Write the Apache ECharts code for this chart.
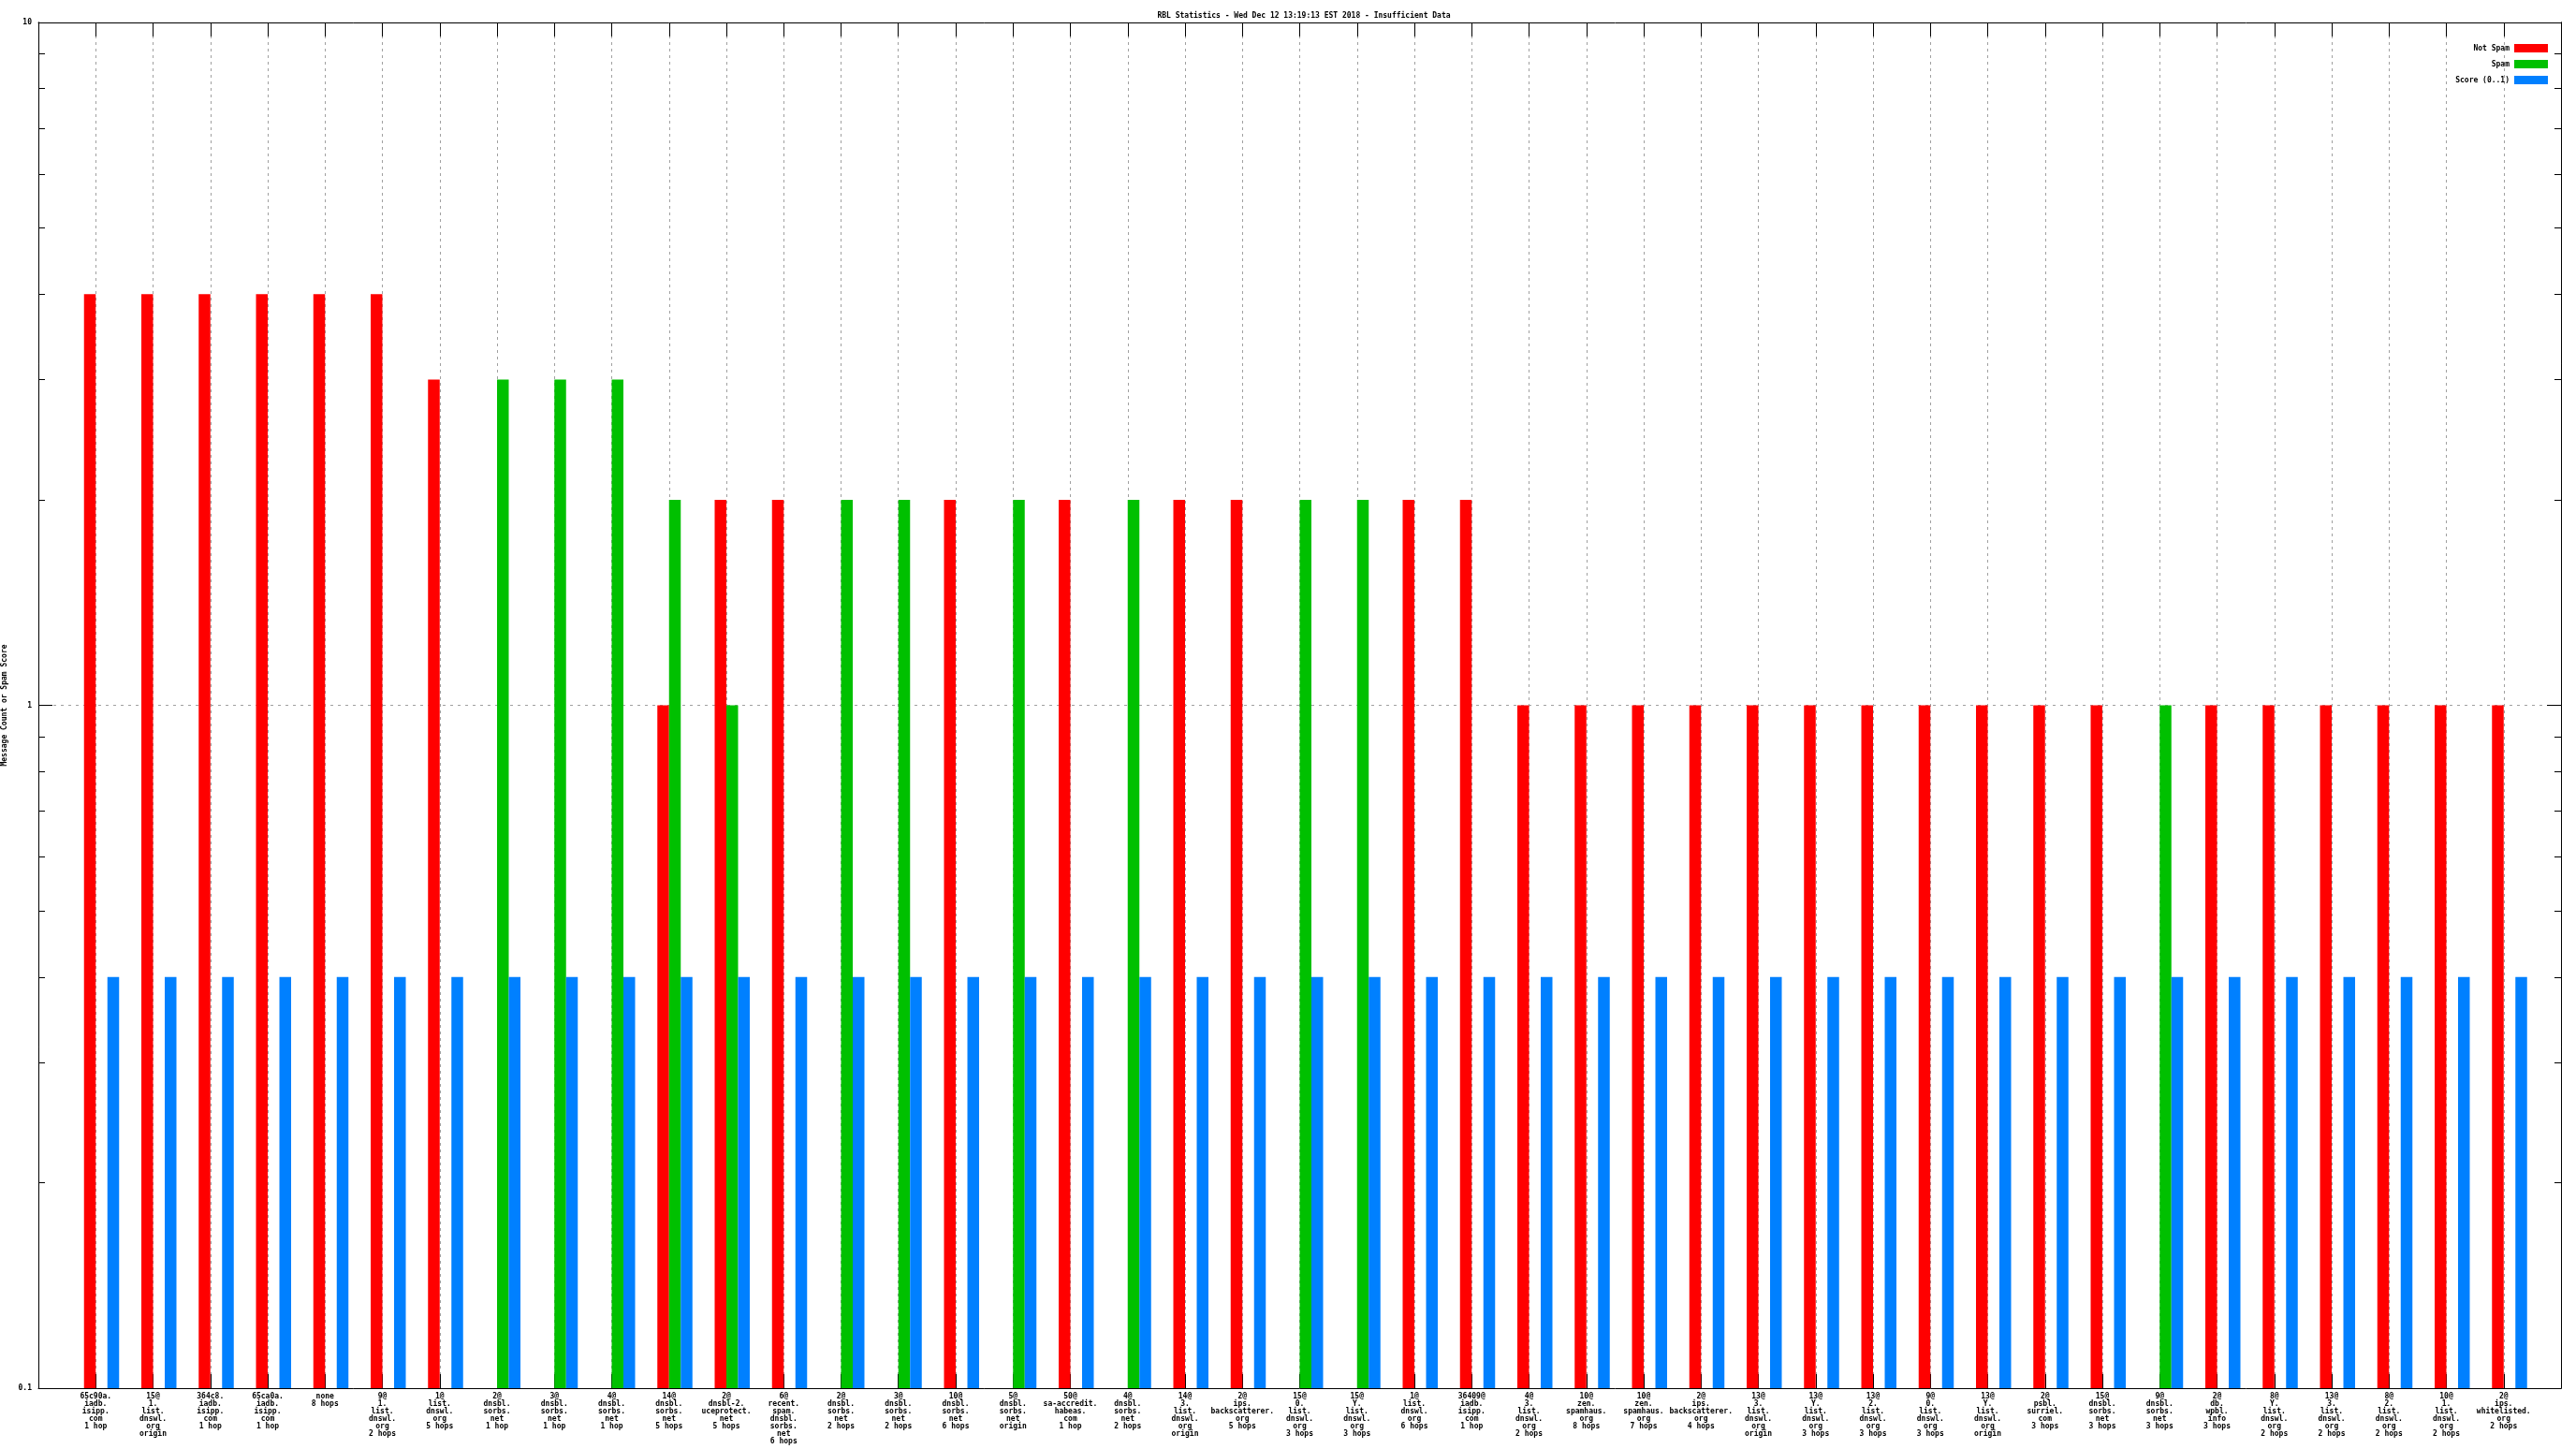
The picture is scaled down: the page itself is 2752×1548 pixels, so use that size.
<!DOCTYPE html>
<html><head><meta charset="utf-8">
<script src="https://cdn.jsdelivr.net/npm/echarts@6/dist/echarts.min.js"></script>
<style>html,body{margin:0;padding:0;background:#fff}#c{width:2752px;height:1548px}</style>
</head><body><div id="c"></div>
<script>
const titleText = 'RBL Statistics - Wed Dec 12 13:19:13 EST 2018 - Insufficient Data';
const yAxisTitle = 'Message Count or Spam Score';
const seriesNames = ['Not Spam', 'Spam', 'Score (0..1)'];
const categories = [
  '65c90a.\niadb.\nisipp.\ncom\n1 hop',
  '15@\n1.\nlist.\ndnswl.\norg\norigin',
  '364c8.\niadb.\nisipp.\ncom\n1 hop',
  '65ca0a.\niadb.\nisipp.\ncom\n1 hop',
  'none\n8 hops',
  '9@\n1.\nlist.\ndnswl.\norg\n2 hops',
  '1@\nlist.\ndnswl.\norg\n5 hops',
  '2@\ndnsbl.\nsorbs.\nnet\n1 hop',
  '3@\ndnsbl.\nsorbs.\nnet\n1 hop',
  '4@\ndnsbl.\nsorbs.\nnet\n1 hop',
  '14@\ndnsbl.\nsorbs.\nnet\n5 hops',
  '2@\ndnsbl-2.\nuceprotect.\nnet\n5 hops',
  '6@\nrecent.\nspam.\ndnsbl.\nsorbs.\nnet\n6 hops',
  '2@\ndnsbl.\nsorbs.\nnet\n2 hops',
  '3@\ndnsbl.\nsorbs.\nnet\n2 hops',
  '10@\ndnsbl.\nsorbs.\nnet\n6 hops',
  '5@\ndnsbl.\nsorbs.\nnet\norigin',
  '50@\nsa-accredit.\nhabeas.\ncom\n1 hop',
  '4@\ndnsbl.\nsorbs.\nnet\n2 hops',
  '14@\n3.\nlist.\ndnswl.\norg\norigin',
  '2@\nips.\nbackscatterer.\norg\n5 hops',
  '15@\n0.\nlist.\ndnswl.\norg\n3 hops',
  '15@\nY.\nlist.\ndnswl.\norg\n3 hops',
  '1@\nlist.\ndnswl.\norg\n6 hops',
  '36409@\niadb.\nisipp.\ncom\n1 hop',
  '4@\n3.\nlist.\ndnswl.\norg\n2 hops',
  '10@\nzen.\nspamhaus.\norg\n8 hops',
  '10@\nzen.\nspamhaus.\norg\n7 hops',
  '2@\nips.\nbackscatterer.\norg\n4 hops',
  '13@\n3.\nlist.\ndnswl.\norg\norigin',
  '13@\nY.\nlist.\ndnswl.\norg\n3 hops',
  '13@\n2.\nlist.\ndnswl.\norg\n3 hops',
  '9@\n0.\nlist.\ndnswl.\norg\n3 hops',
  '13@\nY.\nlist.\ndnswl.\norg\norigin',
  '2@\npsbl.\nsurriel.\ncom\n3 hops',
  '15@\ndnsbl.\nsorbs.\nnet\n3 hops',
  '9@\ndnsbl.\nsorbs.\nnet\n3 hops',
  '2@\ndb.\nwpbl.\ninfo\n3 hops',
  '8@\nY.\nlist.\ndnswl.\norg\n2 hops',
  '13@\n3.\nlist.\ndnswl.\norg\n2 hops',
  '8@\n2.\nlist.\ndnswl.\norg\n2 hops',
  '10@\n1.\nlist.\ndnswl.\norg\n2 hops',
  '2@\nips.\nwhitelisted.\norg\n2 hops'
];
const notSpam = [4,4,4,4,4,4,3,null,null,null,1,2,2,null,null,2,null,2,null,2,2,null,null,2,2,1,1,1,1,1,1,1,1,1,1,1,null,1,1,1,1,1,1];
const spam    = [null,null,null,null,null,null,null,3,3,3,2,1,null,2,2,null,2,null,2,null,null,2,2,null,null,null,null,null,null,null,null,null,null,null,null,null,1,null,null,null,null,null,null];
const score   = [0.4,0.4,0.4,0.4,0.4,0.4,0.4,0.4,0.4,0.4,0.4,0.4,0.4,0.4,0.4,0.4,0.4,0.4,0.4,0.4,0.4,0.4,0.4,0.4,0.4,0.4,0.4,0.4,0.4,0.4,0.4,0.4,0.4,0.4,0.4,0.4,0.4,0.4,0.4,0.4,0.4,0.4,0.4];
const yMajorTicks = [0.1, 1, 10];
const yMinorTicks = [0.2,0.3,0.4,0.5,0.6,0.7,0.8,0.9,2,3,4,5,6,7,8,9];

const FONT = "'DejaVu Sans Mono', monospace";
const WEIGHT = 'bold';
const colors = ['#ff0000', '#00c000', '#0080ff'];
const toPairs = arr => arr.map((v, i) => v == null ? null : [i, v]).filter(d => d);

const xBase = {
  type: 'value', min: -1, max: categories.length, interval: 1,
  axisLine: { show: true, onZero: false, lineStyle: { color: '#000', width: 1 } },
  axisTick: { show: true, inside: true, length: 15, lineStyle: { color: '#000', width: 1 } }
};
const yBase = {
  type: 'log', logBase: 10, min: 0.1, max: 10, startValue: 0.1,
  axisLine: { show: true, onZero: false, lineStyle: { color: '#000', width: 1 } },
  splitLine: { show: false }
};

const chart = echarts.init(document.getElementById('c'), null, { renderer: 'canvas' });
chart.setOption({
  animation: false,
  backgroundColor: '#fff',
  title: {
    text: titleText, left: 1388, top: 8, textAlign: 'center',
    textStyle: { fontSize: 8, fontWeight: WEIGHT, fontFamily: FONT, color: '#000' }
  },
  legend: {
    data: seriesNames, orient: 'vertical', align: 'right', right: 25, top: 42,
    itemWidth: 36, itemHeight: 9, itemGap: 8, icon: 'rect', selectedMode: false,
    textStyle: { fontSize: 8, fontWeight: WEIGHT, fontFamily: FONT, color: '#000' }
  },
  grid: { left: 41, right: 16, top: 24, bottom: 65, containLabel: false, outerBoundsMode: 'none' },
  xAxis: [
    Object.assign({}, xBase, {
      position: 'bottom',
      axisLabel: {
        show: true, margin: 5, fontSize: 8, lineHeight: 8, fontWeight: WEIGHT, fontFamily: FONT, color: '#000',
        formatter: v => (categories[v] !== undefined ? categories[v] : '')
      },
      splitLine: { show: true, lineStyle: { color: '#a0a0a0', width: 1, type: [3, 4] } }
    }),
    Object.assign({}, xBase, {
      position: 'top', axisLabel: { show: false }, splitLine: { show: false }
    })
  ],
  yAxis: [
    Object.assign({}, yBase, {
      position: 'left',
      axisTick: { show: true, inside: true, length: 15, customValues: yMajorTicks, lineStyle: { color: '#000' } },
      axisLabel: { show: true, margin: 7, fontSize: 8, fontWeight: WEIGHT, fontFamily: FONT, color: '#000', customValues: yMajorTicks, formatter: v => String(v) },
      splitLine: { show: true, lineStyle: { color: '#a0a0a0', width: 1, type: [3, 5] } },
      name: yAxisTitle, nameLocation: 'middle', nameRotate: 90, nameGap: 28,
      nameTextStyle: { fontSize: 8, fontWeight: WEIGHT, fontFamily: FONT, color: '#000' }
    }),
    Object.assign({}, yBase, {
      position: 'left',
      axisTick: { show: true, inside: true, length: 7, customValues: yMinorTicks, lineStyle: { color: '#000' } },
      axisLabel: { show: false }
    }),
    Object.assign({}, yBase, {
      position: 'right',
      axisTick: { show: true, inside: true, length: 15, customValues: yMajorTicks, lineStyle: { color: '#000' } },
      axisLabel: { show: false }
    }),
    Object.assign({}, yBase, {
      position: 'right',
      axisTick: { show: true, inside: true, length: 7, customValues: yMinorTicks, lineStyle: { color: '#000' } },
      axisLabel: { show: false }
    })
  ],
  series: [
    { name: '_pad', type: 'bar', data: [], barWidth: 12.5, barGap: '0%' },
    { name: seriesNames[0], type: 'bar', data: toPairs(notSpam), barWidth: 12.5, barGap: '0%', itemStyle: { color: colors[0] } },
    { name: seriesNames[1], type: 'bar', data: toPairs(spam), barWidth: 12.5, barGap: '0%', itemStyle: { color: colors[1] } },
    { name: seriesNames[2], type: 'bar', data: toPairs(score), barWidth: 12.5, barGap: '0%', itemStyle: { color: colors[2] } }
  ]
});
</script>
</body></html>
